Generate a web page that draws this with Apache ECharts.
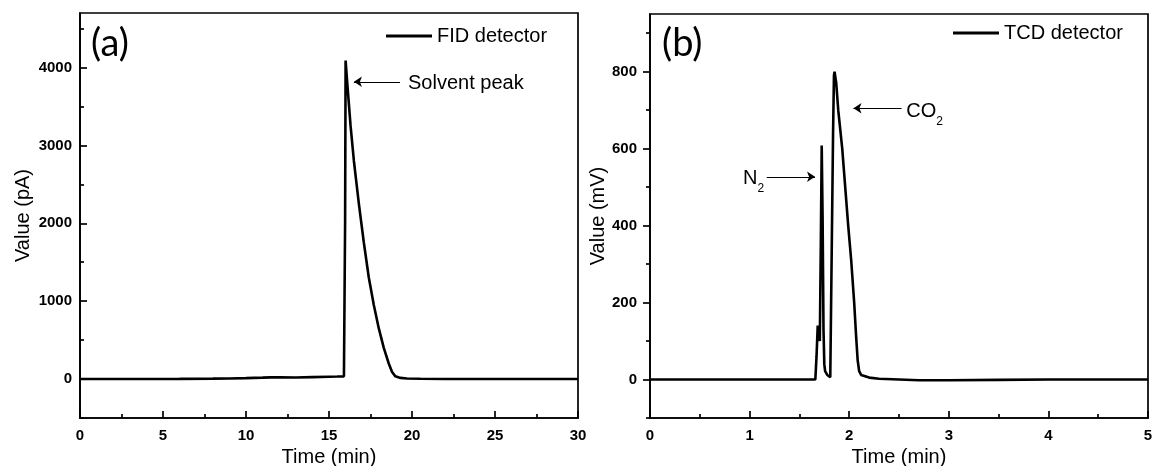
<!DOCTYPE html>
<html><head><meta charset="utf-8">
<script src="https://cdn.jsdelivr.net/npm/echarts@6/dist/echarts.min.js"></script>
<style>html,body{margin:0;padding:0;background:#fff}#c{width:1156px;height:466px}</style>
</head><body><div id="c"></div>
<script>
// ---- Data ----
const fidTime  = [0, 2, 4, 6, 8, 9, 10, 11, 11.5, 12, 13, 14, 15, 15.5, 15.9, 15.97, 16.0, 16.1, 16.3, 16.5, 16.8, 17.1, 17.4, 17.7, 18.0, 18.3, 18.6, 18.8, 19.0, 19.3, 19.7, 20.5, 22, 25, 30];
const fidValue = [0, 0, 0, 2, 5, 8, 12, 18, 22, 24, 20, 25, 30, 32, 35, 2000, 4090, 3800, 3250, 2800, 2250, 1750, 1300, 950, 650, 400, 200, 90, 35, 15, 8, 3, 1, 0, 0];

const tcdTime  = [0, 0.5, 1.0, 1.5, 1.66, 1.672, 1.684, 1.695, 1.705, 1.715, 1.724, 1.733, 1.742, 1.75, 1.758, 1.78, 1.81, 1.825, 1.838, 1.847, 1.853, 1.87, 1.89, 1.93, 1.96, 1.99, 2.02, 2.05, 2.07, 2.085, 2.1, 2.12, 2.2, 2.3, 2.5, 2.7, 3.0, 3.5, 4.0, 4.5, 5.0];
const tcdValue = [0, 0, 0, 0, 0, 60, 140, 130, 100, 350, 608, 420, 130, 40, 22, 12, 6, 5, 640, 790, 800, 770, 700, 600, 500, 400, 310, 200, 110, 50, 22, 12, 5, 2, 0, -2, -2, -1, 0, 0, 0];

const fidYTicks = [0, 1000, 2000, 3000, 4000];
const fidYMinor = [-500, 500, 1500, 2500, 3500, 4500];
const tcdYTicks = [0, 200, 400, 600, 800];
const tcdYMinor = [-100, 100, 300, 500, 700, 900];

const panelLabels = ['(a)', '(b)'];
const seriesNames = ['FID detector', 'TCD detector'];
const axisNames = { x: 'Time (min)', yA: 'Value (pA)', yB: 'Value (mV)' };

// annotations (in data coordinates)
const solventArrow = [[19.28, 3817], [16.5, 3817]];
const solventText = { label: 'Solvent peak', at: [19.76, 3790] };
const n2Arrow = [[1.172, 527], [1.657, 527]];
const n2Text = { main: 'N', sub: '2', at: [0.934, 520] };
const co2Arrow = [[2.526, 705], [2.043, 705]];
const co2Text = { main: 'CO', sub: '2', at: [2.574, 695] };

// ---- Chart ----
const FF = "'Liberation Sans', Arial, sans-serif";
const chart = echarts.init(document.getElementById('c'), null, { renderer: 'canvas' });

function zip(a, b) { return a.map((v, i) => [v, b[i]]); }

const lineBlack = { color: '#000', width: 1.7 };

function xAxisFor(gi, max, interval) {
  return {
    gridIndex: gi, type: 'value', min: 0, max: max, interval: interval,
    axisLine: { onZero: false, lineStyle: lineBlack },
    axisTick: { inside: true, length: 7, lineStyle: lineBlack },
    minorTick: { show: true, splitNumber: 2, length: 4, lineStyle: lineBlack },
    axisLabel: { margin: 10, fontSize: 15, fontWeight: 'bold', color: '#000', fontFamily: FF, formatter: v => String(v) },
    splitLine: { show: false },
    name: axisNames.x, nameLocation: 'middle', nameGap: 18,
    nameTextStyle: { fontSize: 20, color: '#000', fontFamily: FF }
  };
}
function yAxisMain(gi, min, max, ticks, inside, margin, name, nameGap) {
  return {
    gridIndex: gi, type: 'value', min: min, max: max,
    axisLine: { onZero: false, lineStyle: lineBlack },
    axisTick: { inside: inside, length: 7, lineStyle: lineBlack, customValues: ticks },
    axisLabel: { customValues: ticks, margin: margin, fontSize: 15, fontWeight: 'bold', color: '#000', fontFamily: FF, formatter: v => String(v) },
    splitLine: { show: false },
    name: name, nameLocation: 'middle', nameGap: nameGap,
    nameTextStyle: { fontSize: 20, color: '#000', fontFamily: FF }
  };
}
function yAxisMinor(gi, min, max, ticks, inside) {
  return {
    gridIndex: gi, type: 'value', min: min, max: max, position: 'left',
    axisLine: { show: false },
    axisTick: { inside: inside, length: 4, lineStyle: lineBlack, customValues: ticks },
    axisLabel: { show: false },
    splitLine: { show: false }
  };
}

function arrowLine(pts) {
  return [{ coord: pts[0], symbol: 'none' }, { coord: pts[1], symbol: 'arrow' }];
}

const richSub = {
  n: { fontSize: 20, lineHeight: 21, verticalAlign: 'top', color: '#000', fontFamily: FF },
  s: { fontSize: 12, lineHeight: 12, padding: [14, 0, 0, 0], verticalAlign: 'top', color: '#000', fontFamily: FF }
};

const legendBase = {
  padding: 0, itemWidth: 46, itemHeight: 3, itemGap: 5, icon: 'rect',
  textStyle: { fontSize: 20, color: '#000', fontFamily: FF }
};

const gridBase = {
  show: true, borderColor: '#000', borderWidth: 1.7, backgroundColor: 'transparent',
  containLabel: false, outerBoundsMode: 'none'
};

const option = {
  animation: false,
  backgroundColor: '#fff',
  grid: [
    Object.assign({ left: 80, right: 578, top: 13, bottom: 48 }, gridBase),
    Object.assign({ left: 650, right: 8, top: 14, bottom: 48 }, gridBase)
  ],
  xAxis: [ xAxisFor(0, 30, 5), xAxisFor(1, 5, 1) ],
  yAxis: [
    yAxisMain(0, -500, 4700, fidYTicks, true, 8, axisNames.yA, 47),
    yAxisMinor(0, -500, 4700, fidYMinor, true),
    yAxisMain(1, -100, 950, tcdYTicks, false, 13, axisNames.yB, 36),
    yAxisMinor(1, -100, 950, tcdYMinor, false)
  ],
  legend: [
    Object.assign({ data: [seriesNames[0]], left: 386, top: 26 }, legendBase),
    Object.assign({ data: [seriesNames[1]], left: 953, top: 23 }, legendBase)
  ],
  graphic: [
    { type: 'text', left: 91, top: 25, style: { text: panelLabels[0], font: "38px Lato", fill: '#000' } },
    { type: 'text', left: 662, top: 25, style: { text: panelLabels[1], font: "38px Lato", fill: '#000' } }
  ],
  series: [
    {
      name: seriesNames[0], type: 'line', xAxisIndex: 0, yAxisIndex: 0,
      data: zip(fidTime, fidValue), showSymbol: false, symbol: 'none',
      lineStyle: { color: '#000', width: 2.6 }, itemStyle: { color: '#000' },
      markLine: {
        silent: true, symbolSize: 8, label: { show: false },
        lineStyle: { color: '#000', width: 1, type: 'solid' },
        data: [arrowLine(solventArrow)]
      },
      markPoint: {
        silent: true, symbol: 'circle', symbolSize: 0,
        label: { show: true, position: 'right', distance: 0, fontSize: 20, color: '#000', fontFamily: FF, formatter: solventText.label },
        data: [{ coord: solventText.at }]
      }
    },
    {
      name: seriesNames[1], type: 'line', xAxisIndex: 1, yAxisIndex: 2,
      data: zip(tcdTime, tcdValue), showSymbol: false, symbol: 'none',
      lineStyle: { color: '#000', width: 2.6 }, itemStyle: { color: '#000' },
      markLine: {
        silent: true, symbolSize: 8, label: { show: false },
        lineStyle: { color: '#000', width: 1, type: 'solid' },
        data: [arrowLine(n2Arrow), arrowLine(co2Arrow)]
      },
      markPoint: {
        silent: true, symbol: 'circle', symbolSize: 0,
        label: { show: true, position: 'right', distance: 0, rich: richSub },
        data: [
          { coord: n2Text.at, label: { formatter: '{n|' + n2Text.main + '}{s|' + n2Text.sub + '}' } },
          { coord: co2Text.at, label: { formatter: '{n|' + co2Text.main + '}{s|' + co2Text.sub + '}' } }
        ]
      }
    }
  ]
};
chart.setOption(option);
</script>
</body></html>
